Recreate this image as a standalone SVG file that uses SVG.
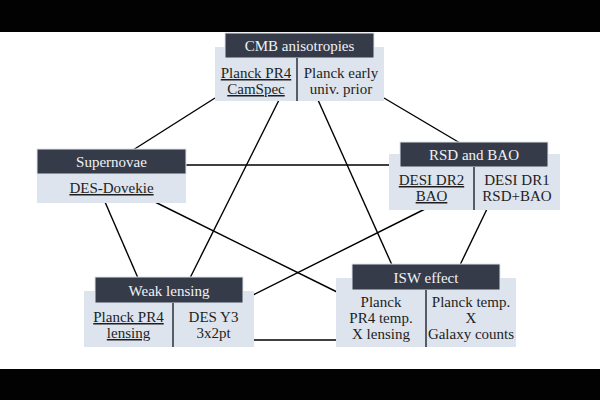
<svg xmlns="http://www.w3.org/2000/svg" width="600" height="400" viewBox="0 0 600 400">
<style>
.hd{fill:#353b49;stroke:#dfe4ec;stroke-width:1}
.bx{fill:#dde4ed}
.dv{stroke:#2a2f3a;stroke-width:1.5}
text{font-family:'Liberation Serif','Times New Roman','DejaVu Serif',serif;font-size:15px;text-anchor:middle}
.ht{fill:#f0f2f6}
.bt{fill:#1e1e1e}
.u{text-decoration:underline}
.cn line{stroke:#000;stroke-width:1.4}
</style>
<rect x="0" y="0" width="600" height="400" fill="#fff"/>
<rect x="0" y="0" width="600" height="32" fill="#020202"/>
<rect x="0" y="369" width="600" height="31" fill="#020202"/>
<g class="cn" id="connectors">
<line x1="215" y1="98" x2="133" y2="150"/>
<line x1="384" y1="98" x2="460" y2="143"/>
<line x1="279" y1="100" x2="190" y2="278"/>
<line x1="318" y1="100" x2="392" y2="265"/>
<line x1="186" y1="165" x2="390" y2="165"/>
<line x1="155" y1="202" x2="337" y2="292"/>
<line x1="105" y1="202" x2="138" y2="278"/>
<line x1="425" y1="209" x2="253" y2="295"/>
<line x1="487" y1="209" x2="460" y2="265"/>
<line x1="253" y1="340" x2="337" y2="340"/>
</g>
<g id="cmb" font-family="Liberation Serif, serif">
<rect class="bx" x="215" y="47" width="169" height="54"/>
<rect class="hd" x="225" y="33" width="149" height="25"/>
<line class="dv" x1="297" y1="58" x2="297" y2="101"/>
<text class="ht" x="299.5" y="51">CMB anisotropies</text>
<text class="bt u" x="256" y="78">Planck PR4</text>
<text class="bt u" x="256" y="94">CamSpec</text>
<text class="bt" x="341" y="78">Planck early</text>
<text class="bt" x="341" y="94">univ. prior</text>
</g>
<g id="supernovae" font-family="Liberation Serif, serif">
<rect class="bx" x="37" y="149" width="149" height="54"/>
<rect class="hd" x="37" y="149" width="149" height="25"/>
<text class="ht" x="111.5" y="167">Supernovae</text>
<text class="bt u" x="111.5" y="193">DES-Dovekie</text>
</g>
<g id="rsd" font-family="Liberation Serif, serif">
<rect class="bx" x="389" y="154" width="171" height="56"/>
<rect class="hd" x="400" y="142" width="148" height="25"/>
<line class="dv" x1="474" y1="167" x2="474" y2="210"/>
<text class="ht" x="474" y="160">RSD and BAO</text>
<text class="bt u" x="431.5" y="185">DESI DR2</text>
<text class="bt u" x="431.5" y="201">BAO</text>
<text class="bt" x="517" y="185">DESI DR1</text>
<text class="bt" x="517" y="201">RSD+BAO</text>
</g>
<g id="weaklensing" font-family="Liberation Serif, serif">
<rect class="bx" x="84" y="291" width="170" height="56"/>
<rect class="hd" x="95" y="277" width="148" height="26"/>
<line class="dv" x1="173" y1="303" x2="173" y2="347"/>
<text class="ht" x="169" y="296">Weak lensing</text>
<text class="bt u" x="128.5" y="322">Planck PR4</text>
<text class="bt u" x="128.5" y="338">lensing</text>
<text class="bt" x="213.5" y="322">DES Y3</text>
<text class="bt" x="213.5" y="338">3x2pt</text>
</g>
<g id="isw" font-family="Liberation Serif, serif">
<rect class="bx" x="336" y="278" width="180" height="69"/>
<rect class="hd" x="352" y="264" width="148" height="26"/>
<line class="dv" x1="426" y1="290" x2="426" y2="347"/>
<text class="ht" x="426" y="283">ISW effect</text>
<text class="bt" x="381" y="307">Planck</text>
<text class="bt" x="381" y="323">PR4 temp.</text>
<text class="bt" x="381" y="339">X lensing</text>
<text class="bt" x="471" y="307">Planck temp.</text>
<text class="bt" x="471" y="323">X</text>
<text class="bt" x="471" y="339">Galaxy counts</text>
</g>
</svg>
